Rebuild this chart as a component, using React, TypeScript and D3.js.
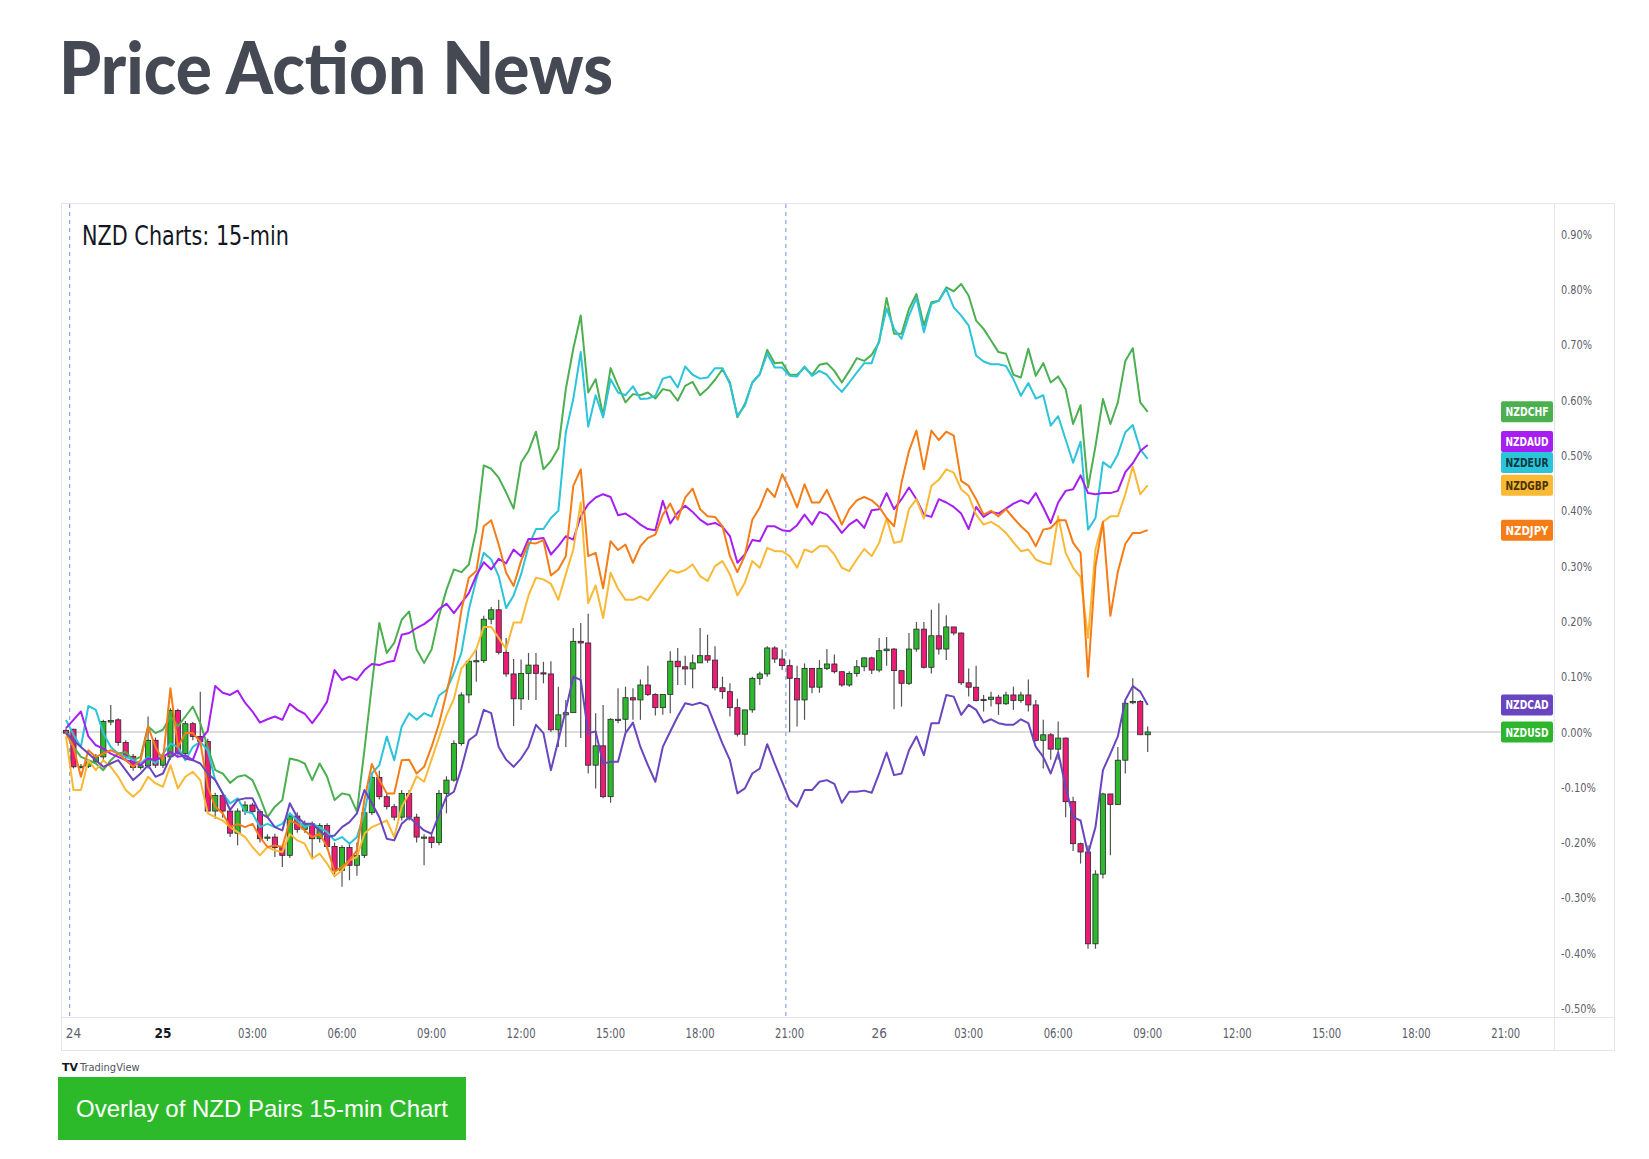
import React from 'react';
import * as d3 from 'd3';

// ---- NZDUSD 15-min candles (% change), bar index 0..145 ----
const usdOpen = [0.003,0.005,-0.063,-0.062,-0.054,-0.045,0.018,0.022,-0.019,-0.044,-0.064,-0.061,-0.015,-0.06,-0.045,0.039,-0.039,0.015,-0.008,-0.017,-0.143,-0.115,-0.143,-0.183,-0.143,-0.132,-0.144,-0.192,-0.19,-0.209,-0.223,-0.152,-0.176,-0.166,-0.193,-0.169,-0.207,-0.25,-0.209,-0.241,-0.223,-0.146,-0.082,-0.117,-0.135,-0.154,-0.111,-0.154,-0.19,-0.19,-0.2,-0.111,-0.087,-0.021,0.067,0.128,0.129,0.204,0.221,0.144,0.105,0.06,0.106,0.121,0.107,0.105,0.004,0.031,0.035,0.164,0.161,-0.06,-0.025,-0.117,0.023,0.023,0.062,0.058,0.085,0.068,0.044,0.068,0.128,0.118,0.114,0.125,0.138,0.13,0.08,0.073,0.044,-0.004,0.04,0.097,0.105,0.152,0.132,0.12,0.097,0.058,0.115,0.081,0.115,0.123,0.109,0.085,0.106,0.118,0.134,0.112,0.147,0.15,0.111,0.088,0.15,0.186,0.117,0.174,0.15,0.19,0.179,0.089,0.081,0.059,0.059,0.063,0.051,0.067,0.057,0.067,0.049,-0.015,-0.005,-0.031,-0.011,-0.126,-0.202,-0.217,-0.383,-0.257,-0.112,-0.131,-0.051,0.053,0.055,-0.005];
const usdHigh = [0.007,0.006,-0.058,-0.05,-0.04,0.022,0.049,0.025,-0.015,-0.04,-0.058,0.028,-0.01,-0.04,0.043,0.042,0.02,0.018,0.073,-0.012,-0.11,-0.11,-0.14,-0.138,-0.125,-0.128,-0.14,-0.185,-0.184,-0.205,-0.148,-0.145,-0.16,-0.162,-0.165,-0.165,-0.2,-0.205,-0.2,-0.2,-0.138,-0.076,-0.07,-0.11,-0.13,-0.105,-0.105,-0.148,-0.185,-0.185,-0.105,-0.08,-0.015,0.072,0.132,0.149,0.21,0.226,0.239,0.17,0.132,0.131,0.143,0.143,0.127,0.128,0.082,0.058,0.188,0.197,0.214,0.034,0.049,0.025,0.079,0.082,0.079,0.095,0.12,0.07,0.068,0.146,0.152,0.138,0.14,0.188,0.176,0.155,0.1,0.088,0.06,0.04,0.1,0.109,0.155,0.155,0.149,0.131,0.12,0.124,0.115,0.13,0.15,0.14,0.11,0.11,0.13,0.135,0.136,0.17,0.172,0.152,0.111,0.179,0.199,0.199,0.221,0.233,0.211,0.19,0.18,0.115,0.12,0.067,0.073,0.067,0.073,0.082,0.073,0.095,0.058,0.022,-0.002,0.019,-0.01,-0.117,-0.2,-0.205,-0.25,-0.11,-0.112,-0.027,0.055,0.097,0.058,0.01];
const usdLow = [-0.003,-0.066,-0.066,-0.065,-0.058,-0.05,0.012,-0.025,-0.05,-0.07,-0.068,-0.066,-0.065,-0.065,-0.05,-0.045,-0.045,-0.015,-0.022,-0.148,-0.157,-0.155,-0.19,-0.205,-0.15,-0.15,-0.2,-0.197,-0.226,-0.244,-0.228,-0.182,-0.182,-0.226,-0.2,-0.212,-0.258,-0.28,-0.268,-0.26,-0.228,-0.15,-0.122,-0.14,-0.16,-0.16,-0.16,-0.2,-0.241,-0.21,-0.205,-0.147,-0.09,-0.025,0.052,0.091,0.125,0.195,0.14,0.1,0.011,0.04,0.058,0.058,0.088,0.0,-0.027,-0.027,0.035,-0.011,-0.075,-0.102,-0.12,-0.128,0.016,-0.002,0.022,0.022,0.065,0.03,0.031,0.034,0.085,0.085,0.079,0.125,0.125,0.075,0.06,0.028,-0.008,-0.025,0.035,0.085,0.1,0.125,0.112,0.0,0.01,0.022,0.07,0.071,0.112,0.106,0.082,0.082,0.1,0.11,0.105,0.108,0.12,0.041,0.046,0.085,0.145,0.115,0.106,0.14,0.13,0.175,0.085,0.064,0.055,0.037,0.046,0.031,0.049,0.04,0.053,0.037,-0.017,-0.066,-0.05,-0.05,-0.154,-0.215,-0.238,-0.392,-0.392,-0.265,-0.223,-0.132,-0.075,0.05,-0.005,-0.036];
const usdClose = [-0.002,-0.063,-0.062,-0.054,-0.045,0.019,0.021,-0.019,-0.044,-0.064,-0.061,-0.015,-0.06,-0.045,0.039,-0.039,0.015,-0.008,-0.017,-0.143,-0.115,-0.143,-0.183,-0.143,-0.132,-0.144,-0.193,-0.19,-0.209,-0.223,-0.152,-0.176,-0.166,-0.193,-0.169,-0.207,-0.25,-0.209,-0.241,-0.223,-0.146,-0.082,-0.117,-0.135,-0.154,-0.111,-0.154,-0.19,-0.19,-0.2,-0.111,-0.087,-0.021,0.067,0.128,0.129,0.204,0.221,0.144,0.105,0.06,0.106,0.121,0.106,0.105,0.004,0.031,0.035,0.164,0.161,-0.06,-0.025,-0.117,0.023,0.023,0.062,0.058,0.085,0.068,0.044,0.068,0.128,0.118,0.114,0.125,0.138,0.13,0.08,0.073,0.044,-0.004,0.04,0.097,0.105,0.152,0.132,0.12,0.097,0.058,0.115,0.081,0.115,0.123,0.109,0.085,0.106,0.118,0.134,0.112,0.147,0.15,0.111,0.088,0.15,0.186,0.117,0.174,0.15,0.19,0.179,0.089,0.081,0.057,0.057,0.063,0.051,0.067,0.057,0.067,0.049,-0.015,-0.005,-0.031,-0.011,-0.126,-0.202,-0.217,-0.383,-0.257,-0.112,-0.131,-0.051,0.052,0.055,-0.005,0.0];

// ---- Overlay lines (% change) ----
const nzdchf = [0.001,-0.027,-0.045,-0.051,-0.057,-0.069,-0.051,-0.039,-0.036,-0.051,-0.045,0.01,-0.002,0.004,0.028,0.01,0.028,0.046,0.016,-0.027,-0.069,-0.075,-0.092,-0.081,-0.078,-0.087,-0.118,-0.154,-0.135,-0.123,-0.048,-0.051,-0.057,-0.087,-0.057,-0.081,-0.123,-0.111,-0.114,-0.144,-0.033,0.085,0.197,0.143,0.161,0.203,0.218,0.149,0.125,0.149,0.21,0.257,0.294,0.289,0.303,0.366,0.482,0.476,0.46,0.433,0.404,0.487,0.508,0.543,0.475,0.49,0.513,0.62,0.693,0.753,0.614,0.638,0.572,0.658,0.626,0.596,0.611,0.609,0.614,0.603,0.62,0.617,0.599,0.626,0.633,0.609,0.621,0.637,0.656,0.632,0.569,0.593,0.632,0.647,0.691,0.667,0.668,0.646,0.646,0.659,0.646,0.664,0.667,0.653,0.632,0.653,0.676,0.671,0.682,0.705,0.785,0.72,0.72,0.765,0.792,0.735,0.777,0.78,0.804,0.797,0.81,0.789,0.744,0.729,0.708,0.687,0.684,0.646,0.641,0.693,0.644,0.667,0.632,0.643,0.62,0.557,0.591,0.442,0.517,0.602,0.557,0.596,0.671,0.694,0.596,0.579];
const nzdeur = [0.022,-0.005,-0.027,0.047,0.04,-0.002,-0.027,-0.039,-0.045,-0.051,-0.057,-0.045,-0.057,-0.039,-0.021,-0.027,-0.051,-0.027,-0.018,-0.033,-0.087,-0.111,-0.129,-0.12,-0.144,-0.147,-0.172,-0.166,-0.172,-0.166,-0.147,-0.16,-0.172,-0.166,-0.172,-0.181,-0.196,-0.19,-0.202,-0.19,-0.147,-0.075,-0.06,-0.008,-0.051,0.01,0.034,0.022,0.034,0.028,0.066,0.076,0.106,0.143,0.221,0.276,0.324,0.312,0.282,0.224,0.247,0.285,0.336,0.367,0.367,0.387,0.4,0.542,0.602,0.687,0.552,0.609,0.569,0.638,0.614,0.609,0.625,0.602,0.603,0.608,0.639,0.643,0.623,0.661,0.646,0.639,0.641,0.658,0.658,0.629,0.572,0.59,0.632,0.647,0.684,0.659,0.659,0.644,0.643,0.661,0.644,0.653,0.646,0.629,0.615,0.632,0.65,0.667,0.667,0.708,0.766,0.729,0.711,0.753,0.785,0.723,0.774,0.78,0.801,0.768,0.753,0.735,0.681,0.67,0.665,0.665,0.662,0.638,0.608,0.631,0.603,0.609,0.554,0.571,0.529,0.487,0.525,0.366,0.387,0.488,0.478,0.502,0.542,0.555,0.511,0.494];
const nzdaud = [0.007,0.022,0.037,-0.008,-0.024,-0.03,-0.039,-0.045,-0.051,-0.054,-0.06,-0.048,-0.051,-0.045,-0.036,-0.045,-0.042,-0.051,-0.015,0.002,0.083,0.071,0.067,0.075,0.053,0.037,0.017,0.023,0.028,0.022,0.051,0.04,0.033,0.016,0.034,0.055,0.112,0.094,0.1,0.094,0.112,0.123,0.121,0.126,0.129,0.176,0.179,0.188,0.195,0.205,0.222,0.232,0.215,0.233,0.251,0.283,0.307,0.294,0.313,0.305,0.33,0.318,0.349,0.349,0.351,0.321,0.336,0.354,0.348,0.39,0.412,0.424,0.43,0.425,0.392,0.395,0.386,0.375,0.367,0.365,0.418,0.377,0.397,0.409,0.398,0.384,0.375,0.378,0.371,0.354,0.306,0.321,0.347,0.345,0.372,0.372,0.365,0.363,0.374,0.393,0.375,0.398,0.393,0.378,0.36,0.375,0.384,0.369,0.401,0.403,0.432,0.403,0.421,0.442,0.421,0.393,0.389,0.421,0.415,0.407,0.395,0.367,0.407,0.389,0.398,0.395,0.404,0.413,0.419,0.413,0.432,0.406,0.378,0.415,0.436,0.439,0.464,0.432,0.43,0.432,0.432,0.436,0.47,0.486,0.508,0.519];
const nzdgbp = [-0.008,-0.105,-0.105,-0.051,-0.069,-0.051,-0.063,-0.081,-0.105,-0.117,-0.105,-0.081,-0.093,-0.099,-0.06,-0.102,-0.081,-0.072,-0.087,-0.147,-0.154,-0.16,-0.172,-0.181,-0.19,-0.208,-0.223,-0.208,-0.214,-0.217,-0.184,-0.196,-0.202,-0.229,-0.22,-0.238,-0.261,-0.25,-0.232,-0.226,-0.184,-0.172,-0.166,-0.16,-0.19,-0.135,-0.111,-0.08,-0.09,-0.05,-0.01,0.03,0.06,0.115,0.13,0.15,0.19,0.19,0.17,0.15,0.198,0.198,0.247,0.279,0.276,0.268,0.239,0.285,0.33,0.415,0.233,0.265,0.206,0.288,0.259,0.239,0.239,0.245,0.238,0.257,0.276,0.293,0.288,0.293,0.303,0.282,0.273,0.3,0.309,0.285,0.247,0.27,0.309,0.297,0.333,0.327,0.327,0.318,0.297,0.33,0.325,0.336,0.336,0.321,0.297,0.291,0.312,0.331,0.318,0.342,0.386,0.342,0.345,0.403,0.421,0.386,0.445,0.456,0.475,0.469,0.439,0.427,0.393,0.375,0.38,0.372,0.36,0.343,0.327,0.33,0.312,0.306,0.303,0.39,0.324,0.297,0.28,0.17,0.33,0.38,0.39,0.39,0.43,0.48,0.43,0.446];
const nzdjpy = [-0.002,-0.027,-0.081,-0.033,-0.045,-0.039,-0.033,-0.039,-0.051,-0.063,-0.051,0.01,-0.027,-0.051,0.079,-0.027,-0.002,-0.002,-0.018,-0.099,-0.135,-0.147,-0.172,-0.166,-0.172,-0.166,-0.19,-0.208,-0.205,-0.208,-0.16,-0.166,-0.178,-0.19,-0.184,-0.208,-0.253,-0.244,-0.232,-0.214,-0.123,-0.058,-0.087,-0.111,-0.111,-0.051,-0.05,-0.075,-0.063,-0.027,0.015,0.07,0.13,0.22,0.279,0.291,0.372,0.383,0.339,0.288,0.264,0.309,0.342,0.341,0.347,0.283,0.294,0.318,0.445,0.475,0.318,0.324,0.26,0.345,0.329,0.339,0.306,0.336,0.351,0.357,0.393,0.413,0.384,0.424,0.44,0.403,0.39,0.389,0.372,0.318,0.289,0.319,0.384,0.406,0.44,0.425,0.466,0.439,0.406,0.448,0.415,0.415,0.438,0.407,0.375,0.403,0.419,0.425,0.419,0.407,0.387,0.372,0.451,0.508,0.545,0.475,0.545,0.528,0.543,0.536,0.454,0.445,0.421,0.393,0.4,0.39,0.403,0.387,0.372,0.36,0.336,0.366,0.369,0.383,0.383,0.342,0.324,0.1,0.3,0.38,0.21,0.29,0.34,0.36,0.36,0.365];
const nzdcad = [-0.002,-0.015,-0.027,-0.039,-0.051,-0.063,-0.057,-0.051,-0.069,-0.087,-0.075,-0.06,-0.081,-0.075,-0.045,-0.036,-0.048,-0.051,-0.057,-0.075,-0.087,-0.111,-0.141,-0.123,-0.12,-0.12,-0.147,-0.154,-0.172,-0.178,-0.129,-0.154,-0.166,-0.166,-0.178,-0.19,-0.187,-0.172,-0.163,-0.147,-0.105,-0.129,-0.154,-0.193,-0.196,-0.166,-0.154,-0.166,-0.178,-0.184,-0.15,-0.117,-0.108,-0.066,-0.015,-0.005,0.04,0.034,-0.027,-0.05,-0.063,-0.048,-0.027,0.013,-0.002,-0.069,-0.015,0.04,0.1,0.094,-0.002,0.001,-0.057,-0.054,-0.054,-0.002,0.017,-0.027,-0.06,-0.09,-0.027,0.001,0.028,0.052,0.049,0.053,0.047,0.013,-0.021,-0.051,-0.111,-0.102,-0.075,-0.066,-0.022,-0.057,-0.09,-0.123,-0.135,-0.105,-0.105,-0.09,-0.087,-0.094,-0.128,-0.108,-0.108,-0.106,-0.11,-0.075,-0.037,-0.078,-0.075,-0.033,-0.008,-0.042,0.016,0.016,0.067,0.064,0.031,0.049,0.04,0.017,0.023,0.016,0.013,0.013,0.023,0.016,-0.027,-0.045,-0.075,-0.037,-0.099,-0.154,-0.16,-0.22,-0.172,-0.069,-0.039,-0.008,0.058,0.083,0.073,0.049];

// ---- Axis labels ----
const yTicks = [0.9, 0.8, 0.7, 0.6, 0.5, 0.4, 0.3, 0.2, 0.1, 0, -0.1, -0.2, -0.3, -0.4, -0.5];
const timeLabels = ['24', '25', '03:00', '06:00', '09:00', '12:00', '15:00', '18:00', '21:00', '26', '03:00', '06:00', '09:00', '12:00', '15:00', '18:00', '21:00'];
const timeLabelBars = [1, 13, 25, 37, 49, 61, 73, 85, 97, 109, 121, 133, 145, 157, 169, 181, 193];
const boldLabels = ['25'];
const sessionBreaks = [0.5, 96.5];

const seriesNames = ['NZDCHF', 'NZDEUR', 'NZDAUD', 'NZDGBP', 'NZDJPY', 'NZDCAD'];
const seriesColors = ['#4CAF50', '#2BC4D9', '#A61EF2', '#F9B935', '#F57C16', '#6A45C0'];
const seriesText = ['#ffffff', '#0c3b42', '#ffffff', '#4a3400', '#ffffff', '#ffffff'];
const seriesData = [nzdchf, nzdeur, nzdaud, nzdgbp, nzdjpy, nzdcad];

const UP = '#2DB82D';
const DOWN = '#EC1B74';
const NARROW = "'Liberation Sans Narrow', 'DejaVu Sans Condensed', 'Arial Narrow', sans-serif";

export default function App() {
  const W = 1649, H = 1159;
  const frame = { l: 61, t: 203, r: 1614, b: 1050 };
  const paneR = 1554, axisY = 1017;

  const x = d3.scaleLinear().domain([0, 145]).range([66, 66 + 145 * 7.46]);
  const y = d3.scaleLinear().domain([-0.5, 0.9]).range([1008.5, 234.3]);

  const line = d3.line<number>().x((_, i) => x(i)).y((d) => y(d));

  // badges: last values, with overlap resolution
  const badgeH = 21;
  type B = { name: string; fill: string; text: string; cy: number };
  const badges: B[] = seriesNames.map((n, i) => ({
    name: n,
    fill: seriesColors[i],
    text: seriesText[i],
    cy: y(seriesData[i][seriesData[i].length - 1]),
  }));
  badges.push({ name: 'NZDUSD', fill: '#2EB52E', text: '#ffffff', cy: y(usdClose[usdClose.length - 1]) });
  badges.sort((a, b) => a.cy - b.cy);
  for (let it = 0; it < 20; it++) {
    for (let i = 1; i < badges.length; i++) {
      const a = badges[i - 1], b = badges[i];
      if (b.cy - a.cy < badgeH) {
        const mid = (a.cy + b.cy) / 2;
        a.cy = mid - badgeH / 2;
        b.cy = mid + badgeH / 2;
      }
    }
  }

  const bodyW = 5.2;

  return (
    <svg width={W} height={H} style={{ position: 'absolute', left: 0, top: 0, display: 'block', background: '#fff' }}>
      <rect x={0} y={0} width={W} height={H} fill="#ffffff" />
      {/* page title */}
      <text x={59} y={94} fontFamily="Lato, 'Open Sans', sans-serif" fontWeight={900} fontSize={72}
        fill="#444953" textLength={554} lengthAdjust="spacingAndGlyphs">Price Action News</text>

      {/* chart frame */}
      <rect x={frame.l + 0.5} y={frame.t + 0.5} width={frame.r - frame.l} height={frame.b - frame.t}
        fill="#ffffff" stroke="#e3e5ea" strokeWidth={1} />
      <line x1={paneR + 0.5} x2={paneR + 0.5} y1={frame.t} y2={frame.b} stroke="#e3e5ea" />
      <line x1={frame.l} x2={frame.r} y1={axisY + 0.5} y2={axisY + 0.5} stroke="#e3e5ea" />

      {/* session breaks */}
      {sessionBreaks.map((s, i) => (
        <line key={'sb' + i} x1={x(s)} x2={x(s)} y1={frame.t + 1} y2={axisY} stroke="#6f92d6"
          strokeWidth={1} strokeDasharray="4,4" />
      ))}

      {/* zero line */}
      <line x1={frame.l} x2={paneR} y1={y(0)} y2={y(0)} stroke="#b8bbc2" strokeWidth={1} />

      {/* chart title */}
      <text x={82} y={245} fontFamily={NARROW} fontSize={26} fill="#131722"
        textLength={207} lengthAdjust="spacingAndGlyphs">NZD Charts: 15-min</text>

      {/* candles */}
      <g>
        {usdClose.map((c, i) => {
          const o = usdOpen[i];
          const up = c >= o;
          const cx = x(i);
          const top = y(Math.max(o, c));
          const bot = y(Math.min(o, c));
          return (
            <g key={'c' + i}>
              <line x1={cx} x2={cx} y1={y(usdHigh[i])} y2={y(usdLow[i])} stroke="#555" strokeWidth={1.2} />
              <rect x={cx - bodyW / 2} y={top} width={bodyW} height={Math.max(bot - top, 1.2)}
                fill={up ? UP : DOWN} stroke="#2a2a2a" strokeWidth={0.8} />
            </g>
          );
        })}
      </g>

      {/* overlay lines */}
      {seriesData.map((d, i) => (
        <path key={'l' + i} d={line(d) || ''} fill="none" stroke={seriesColors[i]} strokeWidth={2}
          strokeLinejoin="round" />
      ))}

      {/* y axis labels */}
      {yTicks.map((t) => {
        const s = t.toFixed(2) + '%';
        return (
          <text key={'y' + t} x={1561} y={y(t) + 4.5} fontFamily={NARROW} fontSize={13} fill="#5d606b"
            textLength={s.length > 5 ? 35 : 31} lengthAdjust="spacingAndGlyphs">{s}</text>
        );
      })}

      {/* time labels */}
      {timeLabels.map((t, i) => {
        const bold = boldLabels.includes(t);
        const extra = t.length === 5 ? { textLength: 29, lengthAdjust: 'spacingAndGlyphs' as const } : {};
        return (
          <text key={'t' + i} x={x(timeLabelBars[i])} y={1038} textAnchor="middle" fontFamily={NARROW}
            fontSize={13.5} fontWeight={bold ? 700 : 400} fill={bold ? '#131722' : '#5d606b'} {...extra}>{t}</text>
        );
      })}

      {/* badges */}
      {badges.map((b) => (
        <g key={b.name}>
          <rect x={1501} y={b.cy - badgeH / 2} width={52} height={badgeH} rx={2} fill={b.fill} />
          <text x={1527} y={b.cy + 4.5} textAnchor="middle" fontFamily={NARROW} fontWeight={700} fontSize={13}
            fill={b.text} textLength={43} lengthAdjust="spacingAndGlyphs">{b.name}</text>
        </g>
      ))}

      {/* TradingView attribution */}
      <text x={62} y={1071} fontFamily="'DejaVu Sans', sans-serif" fontWeight={700} fontSize={11} fill="#131722">TV</text>
      <text x={80} y={1071} fontFamily={NARROW} fontSize={11} fill="#50535e">TradingView</text>

      {/* caption button */}
      <rect x={58} y={1077} width={408} height={63} fill="#2DBA2A" />
      <text x={262} y={1117} textAnchor="middle" fontFamily="'Liberation Sans', Arial, sans-serif" fontSize={24}
        fill="#ffffff" textLength={372} lengthAdjust="spacingAndGlyphs">Overlay of NZD Pairs 15-min Chart</text>
    </svg>
  );
}
